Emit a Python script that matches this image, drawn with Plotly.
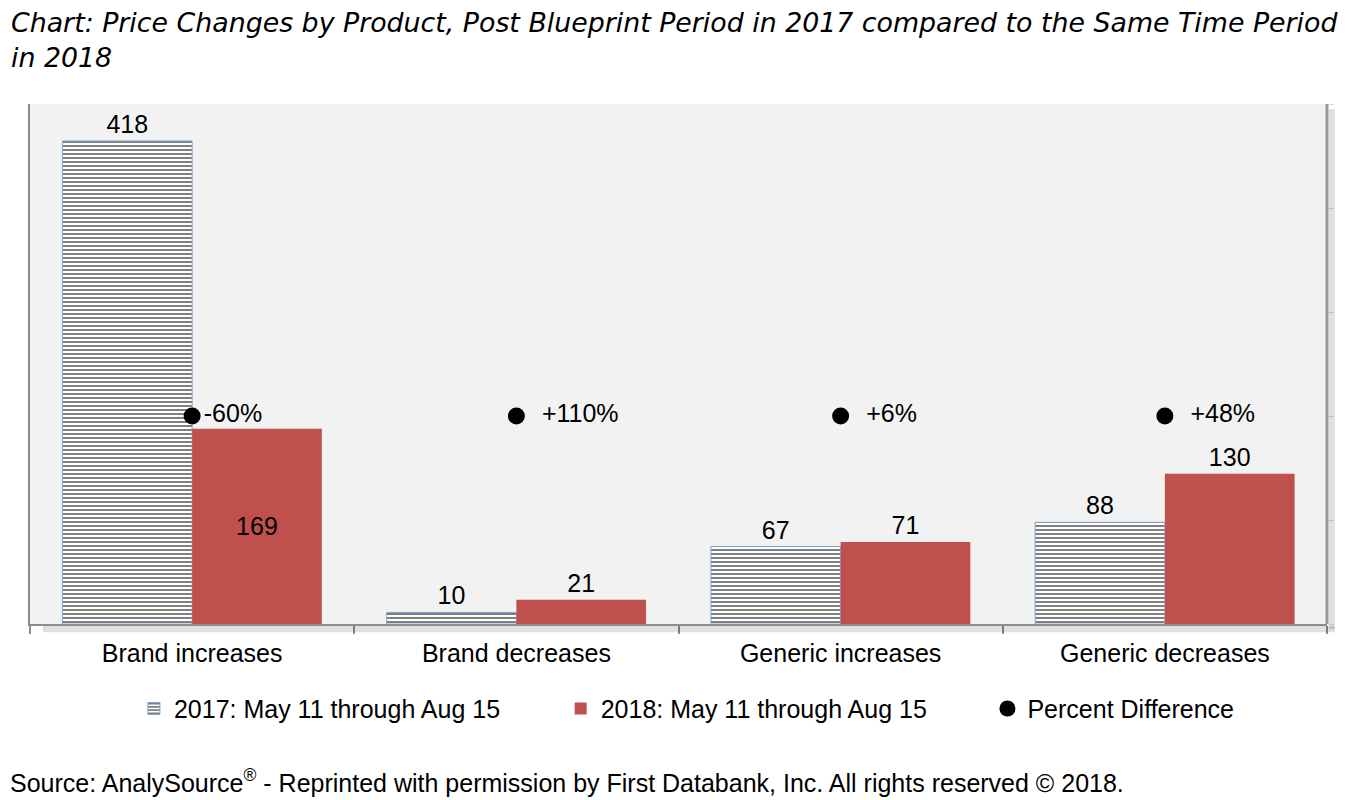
import plotly.graph_objects as go

categories = ["Brand increases", "Brand decreases", "Generic increases", "Generic decreases"]
v2017 = [418, 10, 67, 88]
v2018 = [169, 21, 71, 130]
pct_labels = ["-60%", "  +110%", "  +6%", "  +48%"]
pct_level = [2, 2, 2, 2]

PAD = "\u00a0" * 8
name2017 = "2017: May 11 through Aug 15"
name2018 = "2018: May 11 through Aug 15"
name_pct = "Percent Difference"

FONT = "Liberation Sans, Arial, sans-serif"
TFONT = "DejaVu Sans, sans-serif"
FS = 25

fig = go.Figure()
fig.add_trace(go.Bar(
    x=categories, y=v2017, name=name2017 + PAD,
    marker=dict(color="white", line=dict(color="#7FA3D6", width=1),
                pattern=dict(shape="-", fgcolor="black", bgcolor="white", size=4, solidity=0.5)),
    text=[str(v) for v in v2017], textposition="outside",
    textfont=dict(size=FS, color="black", family=FONT), cliponaxis=False,
))
fig.add_trace(go.Bar(
    x=categories, y=v2018, name=name2018 + PAD,
    marker=dict(color="#C0504D", line=dict(width=0)),
    text=[str(v) for v in v2018],
    textposition=["inside", "outside", "outside", "outside"],
    insidetextanchor="middle",
    textfont=dict(size=FS, color="black", family=FONT), cliponaxis=False,
))
fig.add_trace(go.Scatter(
    x=categories, y=pct_level, name=name_pct, yaxis="y2",
    mode="markers+text", marker=dict(color="black", size=17),
    text=pct_labels, textposition="middle right",
    textfont=dict(size=FS, color="black", family=FONT), cliponaxis=False,
))

fig.update_layout(
    width=1340, height=792,
    paper_bgcolor="white", plot_bgcolor="#F2F2F2",
    margin=dict(l=22, r=21, t=96, b=176),
    barmode="group", bargap=0.2, bargroupgap=0,
    font=dict(family=FONT, color="black", size=FS),
    xaxis=dict(
        showline=True, linecolor="#8C8C8C", linewidth=2,
        ticks="outside", tickson="boundaries", ticklen=8, tickcolor="#8C8C8C", tickwidth=2,
        tickfont=dict(size=FS, family=FONT, color="black"),
        ticklabelstandoff=6,
        showgrid=False,
    ),
    yaxis=dict(
        range=[0, 450], showline=True, linecolor="#8C8C8C", linewidth=2,
        showticklabels=False, showgrid=False, zeroline=False, ticks="",
    ),
    yaxis2=dict(
        range=[0, 5], dtick=1, overlaying="y", side="right",
        showticklabels=False, showgrid=False, zeroline=False,
        ticks="outside", ticklen=6, tickcolor="#DDDDDD", showline=False,
    ),
    legend=dict(
        orientation="h", x=0.5065, xanchor="center", y=-0.163, yanchor="middle",
        font=dict(size=FS, family=FONT, color="black"),
        itemwidth=30, traceorder="normal",
    ),
    showlegend=True,
)

# plot-area wall shadow (styling)
fig.add_shape(type="line", xref="paper", yref="paper", x0=1, x1=1, y0=0, y1=1,
              line=dict(color="#9A9A9A", width=3))
fig.add_shape(type="rect", xref="paper", yref="paper", x0=1.0015, x1=1.006, y0=-0.01, y1=0.99,
              fillcolor="rgba(0,0,0,0.12)", line=dict(width=0))
fig.add_shape(type="rect", xref="paper", yref="paper", x0=0.01, x1=1.006, y0=-0.016, y1=-0.004,
              fillcolor="rgba(0,0,0,0.12)", line=dict(width=0))

fig.add_annotation(
    text="<i>Chart: Price Changes by Product, Post Blueprint Period in 2017 compared to the Same Time Period<br>in 2018</i>",
    xref="paper", yref="paper", x=-0.0165, xanchor="left", y=1.19, yanchor="top",
    align="left", showarrow=False, font=dict(size=26.8, family=TFONT, color="black"),
)

fig.add_annotation(
    text="Source: AnalySource<sup>®</sup> - Reprinted with permission by First Databank, Inc. All rights reserved © 2018.",
    xref="paper", yref="paper", x=-0.017, xanchor="left", y=-0.302, yanchor="middle",
    showarrow=False, font=dict(size=FS, family=FONT, color="black"),
)

fig.write_html("out.html")
